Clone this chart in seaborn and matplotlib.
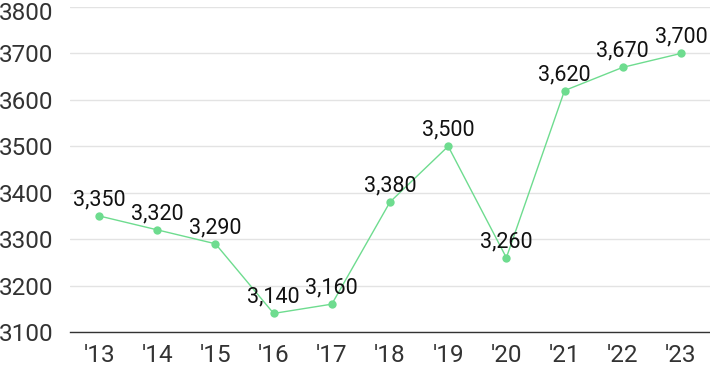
import matplotlib
matplotlib.use("Agg")
import matplotlib.pyplot as plt
import matplotlib.transforms as mtrans
import seaborn as sns
import pandas as pd

years = ["'13", "'14", "'15", "'16", "'17", "'18", "'19", "'20", "'21", "'22", "'23"]
values = [3350, 3320, 3290, 3140, 3160, 3380, 3500, 3260, 3620, 3670, 3700]
yticks = [3100, 3200, 3300, 3400, 3500, 3600, 3700, 3800]

df = pd.DataFrame({"year": years, "value": values})

sns.set_style("white")
plt.rcParams["font.family"] = ["Roboto", "DejaVu Sans"]

fig = plt.figure(figsize=(7.1, 3.71), dpi=100)
ax = fig.add_axes([70/710, 39/371, 640/710, 325/371])

green = "#6edc8f"
sns.lineplot(data=df, x="year", y="value", ax=ax, color=green, linewidth=1,
             marker="o", markersize=6, markeredgewidth=0, sort=False)

for i, v in enumerate(values):
    ax.annotate(f"{v:,}", (i, v), xytext=(0, 4), textcoords="offset points",
                ha="center", va="bottom", fontsize=15.5, color="#111111")

ax.set_xlim(-0.5, 10.5)
ax.set_ylim(3100, 3800)
ax.set_yticks(yticks)
ax.set_xlabel("")
ax.set_ylabel("")
ax.grid(axis="y", color="#e3e3e3", linewidth=1)
ax.set_axisbelow(True)
for s in ["top", "right", "left"]:
    ax.spines[s].set_visible(False)
ax.spines["bottom"].set_color("#333333")
ax.spines["bottom"].set_linewidth(1)
ax.tick_params(axis="both", length=0, labelsize=17.5, colors="#333333")
ax.tick_params(axis="y", pad=12)
ax.tick_params(axis="x", pad=9)

# top label sits just under its grid line so it stays inside the image
top_label = ax.get_yticklabels()[-1]
top_label.set_transform(top_label.get_transform() + mtrans.ScaledTranslation(0, -3/72, fig.dpi_scale_trans))

fig.savefig("out.png", dpi=100)
